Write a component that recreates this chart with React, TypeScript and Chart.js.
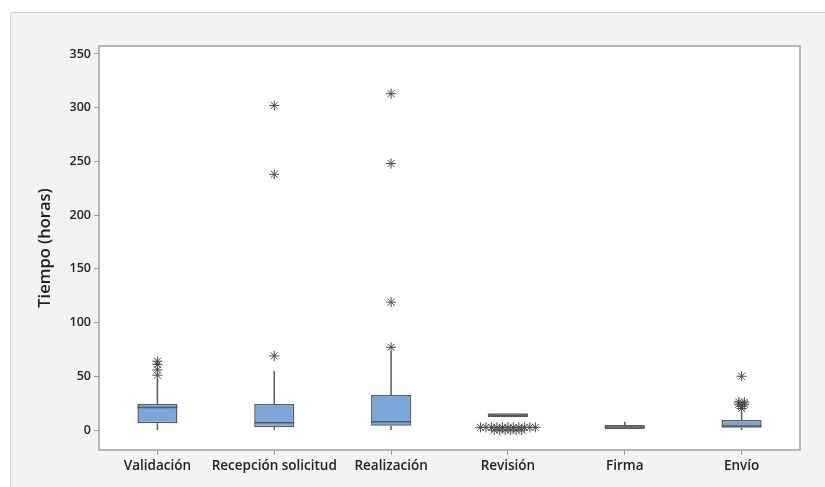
import React, { useEffect, useRef } from "react";
import { Chart, registerables } from "chart.js";

Chart.register(...registerables);

const categories = ["Validación", "Recepción solicitud", "Realización", "Revisión", "Firma", "Envío"];
const q1 = [6.2, 2.5, 4, 11.8, 0.9, 2.2];
const medians = [21, 6.8, 7.7, 13.8, 2.8, 3.7];
const q3 = [24.2, 24.2, 32.6, 15.6, 4.6, 9.3];
const whiskerLow = [0, 0, 0, 11.8, 0.9, 0];
const whiskerHigh = [48, 55, 73, 15.6, 7.7, 17];
const outliersValidacion = [64, 61, 56, 51];
const outliersRecepcion = [69, 238, 302];
const outliersRealizacion = [77, 119, 248, 313];
const outliersRevision = [2.5, 2.5, 2.5, 2.5, 2.5, 2.5, 2.5, 2.5, 2.5, 2.5, 2.5, 0, 0, 0, 0, 0, 0];
const outliersFirma: number[] = [];
const outliersEnvio = [20, 22, 24, 24, 26, 26, 50];
const outliers = [outliersValidacion, outliersRecepcion, outliersRealizacion, outliersRevision, outliersFirma, outliersEnvio];
const yMin = -18.6;
const yMax = 357.4;
const yStep = 50;

const BOX_FILL = "#7ba6da";
const LINE = "#5a5a5a";

function buildOutlierPoints() {
  const pts: { x: number; y: number }[] = [];
  const spacing = 0.047; // tied values spread side by side
  outliers.forEach((vals, i) => {
    const groups = new Map<number, number>();
    vals.forEach((v) => groups.set(v, (groups.get(v) || 0) + 1));
    groups.forEach((n, v) => {
      for (let k = 0; k < n; k++) {
        pts.push({ x: i + (k - (n - 1) / 2) * spacing, y: v });
      }
    });
  });
  return pts;
}

const boxPlotPlugin = {
  id: "boxPlotParts",
  beforeDraw(chart: any) {
    const { ctx, chartArea } = chart;
    ctx.save();
    ctx.fillStyle = "#ffffff";
    ctx.fillRect(chartArea.left, chartArea.top, chartArea.right - chartArea.left, chartArea.bottom - chartArea.top);
    ctx.restore();
  },
  beforeDatasetsDraw(chart: any) {
    const { ctx } = chart;
    const x = chart.scales.x;
    const y = chart.scales.y;
    ctx.save();
    ctx.strokeStyle = LINE;
    ctx.lineWidth = 1.5;
    categories.forEach((_, i) => {
      const cx = x.getPixelForValue(i);
      ctx.beginPath();
      ctx.moveTo(cx, y.getPixelForValue(q3[i]));
      ctx.lineTo(cx, y.getPixelForValue(whiskerHigh[i]));
      ctx.moveTo(cx, y.getPixelForValue(q1[i]));
      ctx.lineTo(cx, y.getPixelForValue(whiskerLow[i]));
      ctx.stroke();
    });
    ctx.restore();
  },
  afterDatasetsDraw(chart: any) {
    const { ctx, chartArea } = chart;
    const y = chart.scales.y;
    const meta = chart.getDatasetMeta(0);
    ctx.save();
    ctx.strokeStyle = LINE;
    ctx.lineWidth = 1.5;
    meta.data.forEach((bar: any, i: number) => {
      const half = bar.width / 2;
      const my = y.getPixelForValue(medians[i]);
      ctx.beginPath();
      ctx.moveTo(bar.x - half, my);
      ctx.lineTo(bar.x + half, my);
      ctx.stroke();
    });
    ctx.strokeStyle = "#a3a3a3";
    ctx.lineWidth = 1.5;
    ctx.strokeRect(chartArea.left, chartArea.top, chartArea.right - chartArea.left, chartArea.bottom - chartArea.top);
    ctx.restore();
  },
};

export default function App() {
  const ref = useRef<HTMLCanvasElement | null>(null);
  useEffect(() => {
    if (!ref.current) return;
    const chart = new Chart(ref.current, {
      type: "bar",
      data: {
        labels: categories,
        datasets: [
          {
            type: "bar",
            data: q1.map((v, i) => [v, q3[i]]) as any,
            backgroundColor: BOX_FILL,
            borderColor: LINE,
            borderWidth: 1.5,
            borderSkipped: false,
            grouped: false,
            barPercentage: 0.343,
            categoryPercentage: 1,
          } as any,
          {
            type: "scatter",
            xAxisID: "x2",
            data: buildOutlierPoints(),
            pointStyle: "star",
            radius: 5,
            borderColor: "#4a4a4a",
            borderWidth: 1,
            backgroundColor: "#4a4a4a",
          } as any,
        ],
      },
      options: {
        responsive: false,
        animation: false,
        layout: { padding: { left: 0, top: 46, right: 25, bottom: 0 } },
        plugins: { legend: { display: false }, tooltip: { enabled: false } },
        scales: {
          x: {
            type: "category",
            offset: true,
            border: { display: false },
            grid: { offset: false, drawOnChartArea: false, drawTicks: true, tickLength: 5, color: "#9a9a9a" },
            ticks: {
              padding: 3,
              color: "#222222",
              font: { family: "Open Sans", size: 13.5, weight: "600" },
              maxRotation: 0,
              autoSkip: false,
            },
            afterFit: (s: any) => {
              s.height = 37;
            },
          },
          x2: {
            type: "linear",
            display: false,
            offset: false,
            min: -0.5,
            max: 5.5,
          },
          y: {
            type: "linear",
            min: yMin,
            max: yMax,
            border: { display: false },
            grid: { drawOnChartArea: false, drawTicks: true, tickLength: 5, color: "#9a9a9a" },
            ticks: {
              stepSize: yStep,
              includeBounds: false,
              padding: 3,
              color: "#222222",
              font: { family: "Open Sans", size: 12.5, weight: "600" },
            },
            title: {
              display: true,
              text: "Tiempo (horas)",
              color: "#1e1e1e",
              font: { family: "Open Sans", size: 16.5, weight: "600" },
              padding: { top: 35, bottom: 0 },
            },
            afterFit: (s: any) => {
              s.width = 99;
            },
          },
        },
      },
      plugins: [boxPlotPlugin],
    });
    return () => chart.destroy();
  }, []);

  return (
    <div style={{ position: "absolute", left: 0, top: 0, width: 825, height: 487, background: "#ffffff", overflow: "hidden" }}>
      <div
        style={{
          position: "absolute",
          left: 10,
          top: 12,
          width: 815,
          height: 475,
          background: "#f3f3f3",
          borderLeft: "1px solid #d2d2d2",
          borderTop: "1px solid #d2d2d2",
          boxSizing: "border-box",
        }}
      />
      <canvas ref={ref} width={825} height={487} style={{ position: "absolute", left: 0, top: 0 }} />
    </div>
  );
}
